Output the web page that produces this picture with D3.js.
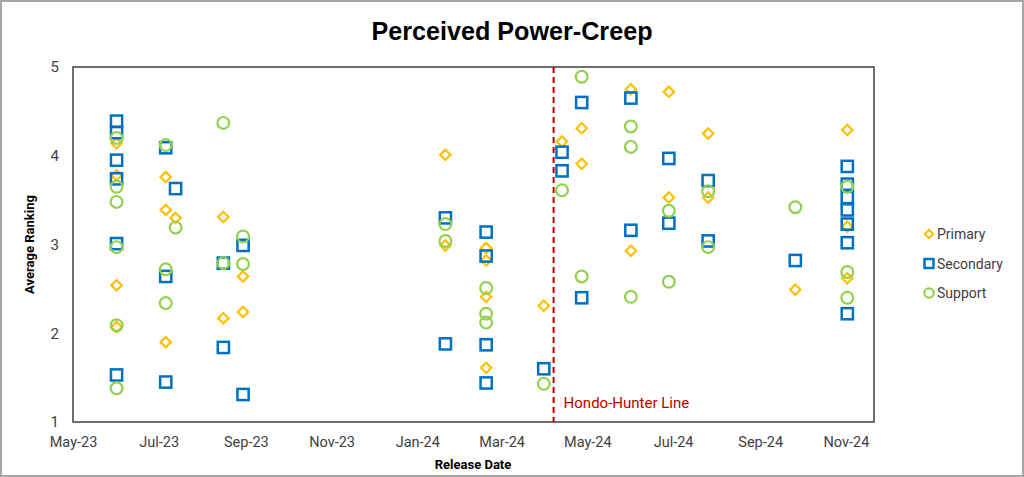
<!DOCTYPE html>
<html>
<head>
<meta charset="utf-8">
<script src="https://cdn.jsdelivr.net/npm/d3@7"></script>
<style>
  html, body { margin: 0; padding: 0; background: #fff; }
  svg { display: block; }
</style>
</head>
<body>
<svg id="chart" width="1024" height="477"></svg>
<script>
// ---- Data ----
const seriesNames = ["Primary", "Secondary", "Support"];
const xTickLabels = ["May-23","Jul-23","Sep-23","Nov-23","Jan-24","Mar-24","May-24","Jul-24","Sep-24","Nov-24"];
const xTickDates = ["2023-05-01","2023-07-01","2023-09-01","2023-11-01","2024-01-01","2024-03-01","2024-05-01","2024-07-01","2024-09-01","2024-11-01"];
const yTicks = [1, 2, 3, 4, 5];
const lineDate = "2024-04-07";
const lineLabel = "Hondo-Hunter Line";

const primary = [
  ["2023-06-01",4.14],["2023-06-01",3.78],["2023-06-01",2.54],["2023-06-01",2.07],
  ["2023-07-06",3.76],["2023-07-06",3.39],["2023-07-06",1.90],
  ["2023-07-13",3.30],
  ["2023-08-16",3.31],["2023-08-16",2.17],
  ["2023-08-30",2.64],["2023-08-30",2.24],
  ["2024-01-21",4.01],["2024-01-21",2.99],
  ["2024-02-19",2.96],["2024-02-19",2.82],["2024-02-19",2.41],["2024-02-19",1.61],
  ["2024-03-31",2.31],
  ["2024-04-13",4.16],
  ["2024-04-27",4.31],["2024-04-27",3.91],
  ["2024-06-01",4.75],["2024-06-01",2.93],
  ["2024-06-28",4.72],["2024-06-28",3.53],
  ["2024-07-26",4.25],["2024-07-26",3.53],
  ["2024-09-26",2.49],
  ["2024-11-02",4.29],["2024-11-02",3.20],["2024-11-02",2.62]
];
const secondary = [
  ["2023-06-01",4.39],["2023-06-01",4.26],["2023-06-01",3.95],["2023-06-01",3.74],["2023-06-01",3.01],["2023-06-01",1.53],
  ["2023-07-06",4.09],["2023-07-06",2.64],["2023-07-06",1.45],
  ["2023-07-13",3.63],
  ["2023-08-16",2.79],["2023-08-16",1.84],
  ["2023-08-30",2.99],["2023-08-30",1.31],
  ["2024-01-21",3.30],["2024-01-21",1.88],
  ["2024-02-19",3.14],["2024-02-19",2.87],["2024-02-19",1.87],["2024-02-19",1.44],
  ["2024-03-31",1.60],
  ["2024-04-13",4.04],["2024-04-13",3.83],
  ["2024-04-27",4.60],["2024-04-27",2.40],
  ["2024-06-01",4.65],["2024-06-01",3.16],
  ["2024-06-28",3.97],["2024-06-28",3.24],
  ["2024-07-26",3.72],["2024-07-26",3.04],
  ["2024-09-26",2.82],
  ["2024-11-02",3.88],["2024-11-02",3.68],["2024-11-02",3.53],["2024-11-02",3.39],["2024-11-02",3.23],["2024-11-02",3.02],["2024-11-02",2.22]
];
const support = [
  ["2023-06-01",4.20],["2023-06-01",3.65],["2023-06-01",3.48],["2023-06-01",2.97],["2023-06-01",2.09],["2023-06-01",1.38],
  ["2023-07-06",4.12],["2023-07-06",2.72],["2023-07-06",2.34],
  ["2023-07-13",3.19],
  ["2023-08-16",4.37],["2023-08-16",2.79],
  ["2023-08-30",3.09],["2023-08-30",2.78],
  ["2024-01-21",3.23],["2024-01-21",3.04],
  ["2024-02-19",2.51],["2024-02-19",2.22],["2024-02-19",2.12],
  ["2024-03-31",1.43],
  ["2024-04-13",3.61],
  ["2024-04-27",4.89],["2024-04-27",2.64],
  ["2024-06-01",4.33],["2024-06-01",4.10],["2024-06-01",2.41],
  ["2024-06-28",3.38],["2024-06-28",2.58],
  ["2024-07-26",3.60],["2024-07-26",2.97],
  ["2024-09-26",3.42],
  ["2024-11-02",3.65],["2024-11-02",2.69],["2024-11-02",2.40]
];

// ---- Layout ----
const parse = d3.utcParse("%Y-%m-%d");
const svg = d3.select("#chart");
const W = 1024, H = 477;
const plot = { left: 73, right: 874, top: 67, bottom: 422 };
const colors = { Primary: "#FFC000", Secondary: "#0070C0", Support: "#92D050" };
const labelFont = "Roboto, 'Liberation Sans', sans-serif";

const x = d3.scaleUtc()
  .domain([parse("2023-05-01"), parse("2024-11-21")])
  .range([plot.left, plot.right]);
const y = d3.scaleLinear().domain([1, 5]).range([plot.bottom, plot.top]);

// outer border
svg.append("rect").attr("x", 1).attr("y", 1).attr("width", W - 2).attr("height", H - 2)
  .attr("fill", "#fff").attr("stroke", "#a6a6a6").attr("stroke-width", 2);

// title
const title = svg.append("text").attr("x", 512).attr("y", 40).attr("text-anchor", "middle")
  .attr("font-family", "'Liberation Sans', Arial, sans-serif")
  .attr("font-weight", "bold").attr("font-size", 25).attr("fill", "#000")
  .attr("textLength", 281).attr("lengthAdjust", "spacingAndGlyphs")
  .text("Perceived Power-Creep");

// axes (labels only)
const xAxis = d3.axisBottom(x)
  .tickValues(xTickDates.map(parse))
  .tickFormat((d, i) => xTickLabels[i])
  .tickSize(0).tickPadding(15);
const gx = svg.append("g").attr("transform", `translate(0,${plot.bottom})`).call(xAxis);
gx.select(".domain").remove();
gx.selectAll("text").attr("font-family", labelFont).attr("font-size", 14.5).attr("fill", "#404040");

const yAxis = d3.axisLeft(y).tickValues(yTicks).tickFormat(d3.format("d")).tickSize(0).tickPadding(14);
const gy = svg.append("g").attr("transform", `translate(${plot.left},0)`).call(yAxis);
gy.select(".domain").remove();
gy.selectAll("text").attr("font-family", labelFont).attr("font-size", 15).attr("fill", "#404040");

// plot frame
svg.append("rect").attr("x", plot.left).attr("y", plot.top)
  .attr("width", plot.right - plot.left).attr("height", plot.bottom - plot.top)
  .attr("fill", "none").attr("stroke", "#404040").attr("stroke-width", 1.5);

// axis titles
svg.append("text").attr("transform", `translate(34,${(plot.top + plot.bottom) / 2}) rotate(-90)`)
  .attr("text-anchor", "middle").attr("font-family", labelFont).attr("font-weight", "bold")
  .attr("font-size", 13).attr("fill", "#000").text("Average Ranking");
svg.append("text").attr("x", 473).attr("y", 469).attr("text-anchor", "middle")
  .attr("font-family", labelFont).attr("font-weight", "bold")
  .attr("font-size", 13).attr("fill", "#000").text("Release Date");

// reference line
const lx = x(parse(lineDate));
svg.append("line").attr("x1", lx).attr("x2", lx).attr("y1", plot.top).attr("y2", plot.bottom)
  .attr("stroke", "#C00000").attr("stroke-width", 2).attr("stroke-dasharray", "6,4");
svg.append("text").attr("x", lx + 10).attr("y", 408)
  .attr("font-family", labelFont).attr("font-size", 15).attr("fill", "#C00000").text(lineLabel);

// markers
function marker(g, name, cx, cy, s) {
  const c = colors[name];
  if (name === "Primary") {
    const r = 5.2 * s;
    g.append("path").attr("d", `M${cx},${cy - r}L${cx + r},${cy}L${cx},${cy + r}L${cx - r},${cy}Z`)
      .attr("fill", "none").attr("stroke", c).attr("stroke-width", 2.2 * Math.min(1, s + 0.2));
  } else if (name === "Secondary") {
    const h = 5.6 * s;
    g.append("rect").attr("x", cx - h).attr("y", cy - h).attr("width", 2 * h).attr("height", 2 * h)
      .attr("fill", "none").attr("stroke", c).attr("stroke-width", 2.5 * Math.min(1, s + 0.2));
  } else {
    g.append("circle").attr("cx", cx).attr("cy", cy).attr("r", 5.9 * s)
      .attr("fill", "none").attr("stroke", c).attr("stroke-width", 2.2 * Math.min(1, s + 0.2));
  }
}

const data = { Primary: primary, Secondary: secondary, Support: support };
seriesNames.forEach(name => {
  const g = svg.append("g").attr("class", "series-" + name);
  data[name].forEach(([d, v]) => marker(g, name, x(parse(d)), y(v), 1));
});

// legend
const legend = svg.append("g");
seriesNames.forEach((name, i) => {
  const ly = 234 + i * 29.5;
  marker(legend, name, 929, ly, 0.8);
  legend.append("text").attr("x", 937).attr("y", ly + 5)
    .attr("font-family", labelFont).attr("font-size", 14).attr("fill", "#404040").text(name);
});
</script>
</body>
</html>
